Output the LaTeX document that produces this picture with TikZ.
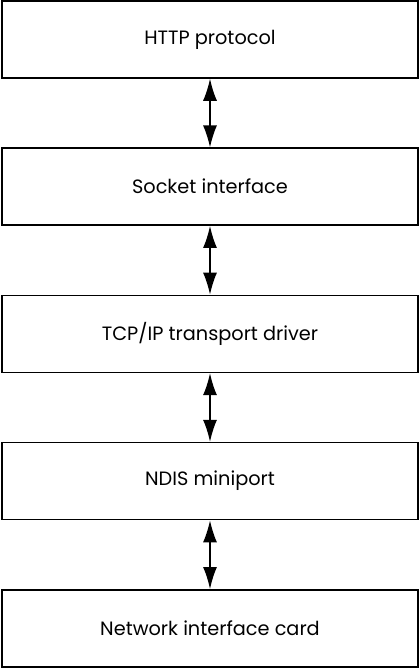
\documentclass[tikz,border=0pt]{standalone}
\usepackage{fontspec}
\setmainfont{Poppins}
\usetikzlibrary{positioning,arrows.meta}
\begin{document}
\begin{tikzpicture}[x=1pt,y=1pt,
    layer/.style={draw,line width=1.5pt,minimum width=416pt,minimum height=77pt,
      inner sep=0pt,font=\fontsize{19.3}{22}\selectfont},
    link/.style={{Latex[length=22pt,width=14pt]}-{Latex[length=22pt,width=14pt]},line width=1.4pt}]
  \useasboundingbox (0,0) rectangle (420,-669);
  \node[layer] (http) at (210,-39.5) {HTTP protocol};
  \node[layer,below=68.7pt of http] (sock) {Socket interface};
  \node[layer,below=68.7pt of sock] (tcp) {TCP/IP transport driver};
  \node[layer,below=68.7pt of tcp] (ndis) {NDIS miniport};
  \node[layer,below=68.7pt of ndis] (nic) {Network interface card};
  \draw[link] (http) -- (sock);
  \draw[link] (sock) -- (tcp);
  \draw[link] (tcp) -- (ndis);
  \draw[link] (ndis) -- (nic);
\end{tikzpicture}
\end{document}
